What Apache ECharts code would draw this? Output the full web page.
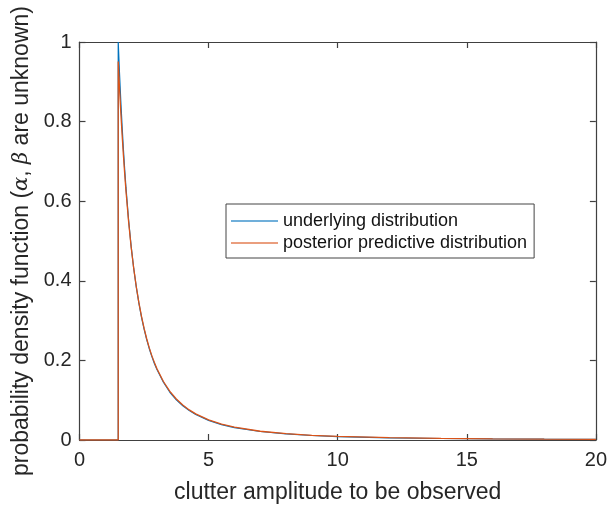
<!DOCTYPE html>
<html>
<head>
<meta charset="utf-8">
<script src="https://cdn.jsdelivr.net/npm/echarts@6/dist/echarts.min.js"></script>
<style>
html,body{margin:0;padding:0;background:#fff;}
#chart{width:610px;height:509px;}
</style>
</head>
<body>
<div id="chart"></div>
<script>
const xValues = [0, 1.5, 1.5, 1.55, 1.6, 1.65, 1.7, 1.75, 1.8, 1.9, 2.0, 2.1, 2.2, 2.3, 2.4, 2.5, 2.6, 2.7, 2.8, 2.9, 3.0, 3.25, 3.5, 3.75, 4.0, 4.25, 4.5, 5, 5.5, 6, 7, 8, 9, 10, 12, 14, 16, 18, 20];
const underlying = [0, 0, 1.0, 0.921, 0.851, 0.788, 0.731, 0.680, 0.634, 0.554, 0.487, 0.431, 0.384, 0.344, 0.309, 0.279, 0.253, 0.230, 0.210, 0.192, 0.177, 0.145, 0.120, 0.101, 0.0861, 0.0740, 0.0642, 0.0493, 0.0388, 0.0313, 0.0213, 0.0152, 0.0113, 0.0087, 0.0055, 0.0038, 0.0027, 0.0020, 0.0015];
const posterior = [0, 0, 0.951, 0.884, 0.823, 0.767, 0.716, 0.669, 0.626, 0.550, 0.485, 0.431, 0.385, 0.345, 0.311, 0.281, 0.255, 0.232, 0.212, 0.195, 0.179, 0.147, 0.122, 0.103, 0.0878, 0.0756, 0.0656, 0.0505, 0.0398, 0.0322, 0.0220, 0.0158, 0.0118, 0.0091, 0.0058, 0.0040, 0.0029, 0.0022, 0.0017];
const seriesNames = ['underlying distribution', 'posterior predictive distribution'];
const xTicks = [0, 5, 10, 15, 20];
const yTicks = [0, 0.2, 0.4, 0.6, 0.8, 1];

const font = 'Liberation Sans, Arial, Helvetica, sans-serif';
const axisColor = '#404040';
const textColor = '#262626';
const colors = ['#0072BD', '#D95319'];

function pairs(xs, ys) { return xs.map((x, i) => [x, ys[i]]); }

const chart = echarts.init(document.getElementById('chart'), null, {renderer: 'canvas'});
const baseAxis = {
  axisLine: {show: true, onZero: false, lineStyle: {color: axisColor, width: 1.2}},
  axisTick: {show: true, inside: true, length: 6, lineStyle: {color: axisColor, width: 1.2}},
  splitLine: {show: false}
};
chart.setOption({
  animation: false,
  backgroundColor: '#fff',
  grid: {left: 79.5, right: 10.5, top: 42, bottom: 64, containLabel: false},
  legend: {
    show: true,
    orient: 'vertical',
    left: 226, top: 204,
    data: seriesNames.map((n, i) => ({name: n, icon: 'rect', itemStyle: {color: colors[i], opacity: 0.75}})),
    itemWidth: 47, itemHeight: 1.5, itemGap: 0,
    padding: [6, 7, 4, 5],
    borderColor: '#444', borderWidth: 1,
    backgroundColor: '#fff',
    textStyle: {fontFamily: font, fontSize: 18, color: '#111', lineHeight: 22, padding: [0, 0, 0, 0]}
  },
  xAxis: [
    Object.assign({}, baseAxis, {
      type: 'value', min: xTicks[0], max: xTicks[xTicks.length - 1], interval: 5,
      position: 'bottom',
      axisLabel: {fontFamily: font, fontSize: 20, color: textColor, margin: 10},
      name: 'clutter amplitude to be observed',
      nameLocation: 'middle', nameGap: 41,
      nameTextStyle: {fontFamily: font, fontSize: 23, color: textColor}
    }),
    Object.assign({}, baseAxis, {
      type: 'value', min: xTicks[0], max: xTicks[xTicks.length - 1], interval: 5,
      position: 'top', axisLabel: {show: false}
    })
  ],
  yAxis: [
    Object.assign({}, baseAxis, {
      type: 'value', min: yTicks[0], max: yTicks[yTicks.length - 1], interval: 0.2,
      position: 'left',
      axisLabel: {fontFamily: font, fontSize: 20, color: textColor, margin: 8},
      name: 'probability density function ({g|α}, {g|β} are unknown)',
      nameLocation: 'middle', nameGap: 40, nameRotate: 90,
      nameTextStyle: {fontFamily: font, fontSize: 23, color: textColor,
        rich: {g: {fontFamily: 'DejaVu Serif, serif', fontStyle: 'italic', fontSize: 21, color: textColor}}}
    }),
    Object.assign({}, baseAxis, {
      type: 'value', min: yTicks[0], max: yTicks[yTicks.length - 1], interval: 0.2,
      position: 'right', axisLabel: {show: false}
    })
  ],
  series: [
    {name: seriesNames[0], type: 'line', data: pairs(xValues, underlying), showSymbol: false, symbol: 'none',
     lineStyle: {color: colors[0], width: 1.2}, itemStyle: {color: colors[0]}},
    {name: seriesNames[1], type: 'line', data: pairs(xValues, posterior), showSymbol: false, symbol: 'none',
     lineStyle: {color: colors[1], width: 1.3}, itemStyle: {color: colors[1]}}
  ]
});
</script>
</body>
</html>
